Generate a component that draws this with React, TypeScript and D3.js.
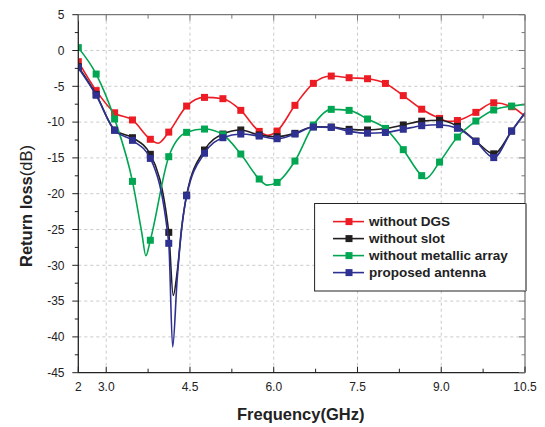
import React from "react";
import * as d3 from "d3";

// Marker frequencies (GHz)
const freqs = [2.5, 2.82, 3.15, 3.47, 3.79, 4.12, 4.44, 4.76, 5.09, 5.41, 5.74, 6.06, 6.38, 6.71, 7.03, 7.35, 7.68, 8.0, 8.32, 8.65, 8.97, 9.29, 9.62, 9.94, 10.26];
const endFreq = 10.5;

// Return loss (dB) at marker frequencies
const withoutDGS = [-1.56, -5.6, -8.7, -9.7, -12.4, -11.4, -7.76, -6.55, -6.73, -8.36, -11.3, -11.25, -7.66, -4.59, -3.57, -3.8, -3.94, -4.6, -6.3, -8.2, -9.48, -9.78, -8.64, -7.3, -7.85];
const withoutSlot = [-2.26, -6.13, -11.1, -12.18, -14.5, -25.4, -20.2, -13.9, -11.67, -11.1, -11.8, -12.04, -11.57, -10.64, -10.69, -11.01, -11.1, -10.9, -10.4, -9.87, -9.75, -10.6, -12.65, -14.43, -11.25];
const withoutArray = [0.4, -3.29, -9.57, -18.28, -26.5, -14.83, -11.43, -10.97, -11.76, -14.46, -17.95, -18.42, -15.44, -10.41, -8.22, -8.36, -9.57, -10.88, -13.85, -17.48, -15.58, -12.09, -9.85, -8.31, -7.76];
const proposed = [-2.4, -6.25, -11.15, -12.55, -15.07, -26.93, -20.3, -14.35, -12.18, -11.67, -11.95, -12.32, -11.67, -10.69, -10.74, -11.29, -11.55, -11.45, -11.0, -10.5, -10.36, -10.87, -12.7, -14.96, -11.25];

// Values at the right edge (10.5 GHz, no marker)
const endValues = [-9.2, -8.7, -7.56, -8.7];

const extraDGS: [number, number][] = [[3.93, -12.95], [5.89, -11.85], [9.12, -9.9]];
const extraSlot: [number, number][] = [[4.2, -34.2], [4.27, -31.0], [4.35, -24.8]];
const extraArray: [number, number][] = [[3.64, -25.6], [3.71, -28.66], [5.88, -18.8], [8.72, -17.9]];
const extraProposed: [number, number][] = [[4.19, -41.4], [4.27, -32.0], [4.35, -25.0]];

const seriesNames = ["without DGS", "without slot", "without metallic array", "proposed antenna"];
const seriesColors = ["#ed1c24", "#231f20", "#00a651", "#2e3192"];
const seriesValues = [withoutDGS, withoutSlot, withoutArray, proposed];
const seriesExtras = [extraDGS, extraSlot, extraArray, extraProposed];

const xTickValues = [2.5, 3.0, 4.5, 6.0, 7.5, 9.0, 10.5];
const xTickLabels = ["2", "3.0", "4.5", "6.0", "7.5", "9.0", "10.5"];
const xMinorTicks = [3.75, 5.25, 6.75, 8.25, 9.75];
const yTickValues = [5, 0, -5, -10, -15, -20, -25, -30, -35, -40, -45];
const yMinorTicks = [2.5, -2.5, -7.5, -12.5, -17.5, -22.5, -27.5, -32.5, -37.5, -42.5];
const xGrid = [3.0, 4.5, 6.0, 7.5, 9.0];
const yGrid = [0, -5, -10, -15, -20, -25, -30, -35, -40];

const W = 545;
const H = 427;
const L = 78.3, R = 525, T = 14.7, B = 372.7;
const FONT = "'Liberation Sans', Arial, Helvetica, sans-serif";

export default function App() {
  const x = d3.scaleLinear().domain([2.5, 10.5]).range([L, R]);
  const y = d3.scaleLinear().domain([-45, 5]).range([B, T]);
  const line = d3
    .line<[number, number]>()
    .x((d) => x(d[0]))
    .y((d) => y(d[1]))
    .curve(d3.curveMonotoneX);

  const series = seriesValues.map((vals, si) => {
    const pts: [number, number][] = freqs.map((f, i) => [f, vals[i]] as [number, number]);
    const all = pts.concat(seriesExtras[si]).concat([[endFreq, endValues[si]]]);
    all.sort((a, b) => a[0] - b[0]);
    return { name: seriesNames[si], color: seriesColors[si], markers: pts, path: line(all) || "" };
  });

  const ms = 7;
  const axisColor = "#222";
  const frameColor = "#777";

  return (
    <svg
      width={W}
      height={H}
      style={{ position: "absolute", left: 0, top: 0, background: "#fff" }}
      fontFamily={FONT}
    >
      <defs>
        <clipPath id="plotclip">
          <rect x={L} y={T} width={R - L} height={B - T} />
        </clipPath>
      </defs>
      <rect x={0} y={0} width={W} height={H} fill="#fff" />
      {/* grid */}
      <g stroke="#c4c4c4" strokeWidth={0.9} strokeDasharray="3,3">
        {xGrid.map((v) => (
          <line key={"gx" + v} x1={x(v)} x2={x(v)} y1={T} y2={B} />
        ))}
        {yGrid.map((v) => (
          <line key={"gy" + v} x1={L} x2={R} y1={y(v)} y2={y(v)} />
        ))}
      </g>
      {/* data */}
      <g clipPath="url(#plotclip)">
        {series.map((s) => (
          <g key={s.name}>
            <path d={s.path} fill="none" stroke={s.color} strokeWidth={1.6} />
            {s.markers.map((p, i) => (
              <rect
                key={i}
                x={x(p[0]) - ms / 2}
                y={y(p[1]) - ms / 2}
                width={ms}
                height={ms}
                fill={s.color}
              />
            ))}
          </g>
        ))}
      </g>
      {/* frame */}
      <line x1={L} x2={R} y1={T} y2={T} stroke={frameColor} strokeWidth={1.3} />
      <line x1={R} x2={R} y1={T} y2={B} stroke={frameColor} strokeWidth={1.3} />
      <line x1={L} x2={R} y1={B} y2={B} stroke={axisColor} strokeWidth={1.3} />
      <line x1={L} x2={L} y1={T} y2={B} stroke={axisColor} strokeWidth={1.3} />
      {/* bottom & top ticks (inward) */}
      {xTickValues.map((v) => (
        <g key={"xt" + v}>
          <line x1={x(v)} x2={x(v)} y1={B} y2={B - 6} stroke={axisColor} strokeWidth={1} />
          <line x1={x(v)} x2={x(v)} y1={T} y2={T + 6} stroke={frameColor} strokeWidth={1} />
        </g>
      ))}
      {xMinorTicks.map((v) => (
        <g key={"xm" + v}>
          <line x1={x(v)} x2={x(v)} y1={B} y2={B - 4} stroke={axisColor} strokeWidth={1} />
          <line x1={x(v)} x2={x(v)} y1={T} y2={T + 4} stroke={frameColor} strokeWidth={1} />
        </g>
      ))}
      {/* left ticks (outward) & right ticks (inward) */}
      {yTickValues.map((v) => (
        <g key={"yt" + v}>
          <line x1={L - 6} x2={L} y1={y(v)} y2={y(v)} stroke={axisColor} strokeWidth={1} />
          <line x1={R - 6} x2={R} y1={y(v)} y2={y(v)} stroke={frameColor} strokeWidth={1} />
        </g>
      ))}
      {yMinorTicks.map((v) => (
        <g key={"ym" + v}>
          <line x1={L - 3.5} x2={L} y1={y(v)} y2={y(v)} stroke={axisColor} strokeWidth={1} />
          <line x1={R - 3.5} x2={R} y1={y(v)} y2={y(v)} stroke={frameColor} strokeWidth={1} />
        </g>
      ))}
      {/* tick labels */}
      <g fontSize={12} fill="#222">
        {xTickValues.map((v, i) => (
          <text key={"xl" + v} x={x(v)} y={390.8} textAnchor="middle">
            {xTickLabels[i]}
          </text>
        ))}
        {yTickValues.map((v) => (
          <text key={"yl" + v} x={64.5} y={y(v) + 4.3} textAnchor="end">
            {String(v)}
          </text>
        ))}
      </g>
      {/* axis titles */}
      <text x={300.7} y={420} textAnchor="middle" fontSize={16.5} fontWeight="bold" fill="#222">
        Frequency(GHz)
      </text>
      <text
        transform={`translate(32,206) rotate(-90)`}
        textAnchor="middle"
        fontSize={16.5}
        fill="#222"
      >
        <tspan fontWeight="bold">Return loss</tspan>
        <tspan>(dB)</tspan>
      </text>
      {/* legend */}
      <rect x={314.6} y={203.5} width={211} height={87.5} fill="#fff" stroke="#222" strokeWidth={1} />
      <line x1={526} x2={526} y1={203.5} y2={291} stroke="#888" strokeWidth={2} />
      {series.map((s, i) => {
        const ly = 221.6 + i * 17.0;
        return (
          <g key={"lg" + s.name}>
            <line x1={333} x2={364} y1={ly} y2={ly} stroke={s.color} strokeWidth={1.6} />
            <rect x={349 - ms / 2} y={ly - ms / 2} width={ms} height={ms} fill={s.color} />
            <text x={369} y={ly + 4.8} fontSize={13.5} fontWeight="bold" fill="#222">
              {s.name}
            </text>
          </g>
        );
      })}
    </svg>
  );
}
